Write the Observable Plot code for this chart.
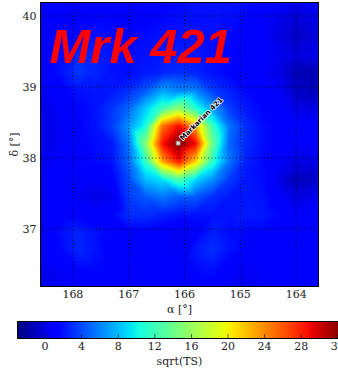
<!DOCTYPE html>
<html><head><meta charset="utf-8">
<script src="https://cdn.jsdelivr.net/npm/d3@7"></script>
<script src="https://cdn.jsdelivr.net/npm/@observablehq/plot@0.6"></script>
<style>
html,body{margin:0;padding:0;overflow:hidden;background:#fff;width:338px;height:369px}
svg{display:block}
</style></head><body><div id="chart"></div><script>
// Grid of sqrt(TS) values (rows = declination, cols = right ascension)
const alphaCols = [168.5,168.2,167.9,167.6,167.3,167.0,166.7,166.4,166.1,165.8,165.5,165.2,164.9,164.6,164.3,164.0,163.7,163.4];
const decRows = [40.2,39.95,39.7,39.45,39.2,38.95,38.7,38.45,38.2,37.95,37.7,37.45,37.2,36.95,36.7,36.45,36.2];
const sqrtTS = [
 [0.8,0.7,0.9,1.3,1.3,0.9,0.9,1.3,1.6,1.9,2.0,2.0,1.8,1.3,0.8,0.4,0.6,0.8],
 [0.8,0.9,1.2,1.5,1.5,1.2,1.3,1.6,1.8,2.0,2.0,1.8,1.5,1.0,0.3,-0.3,0.0,0.5],
 [1.0,1.3,1.7,2.0,1.8,1.6,1.8,2.0,2.0,2.0,1.8,1.6,1.3,0.8,0.0,-0.8,-0.3,0.4],
 [1.2,1.8,2.8,2.5,2.0,1.8,2.0,2.2,2.4,2.2,1.8,1.5,1.3,1.0,0.5,0.0,0.2,0.6],
 [1.2,2.0,3.3,2.6,2.0,1.8,2.2,2.6,3.0,2.6,2.0,1.5,1.2,0.8,0.2,-1.2,-1.5,-0.5],
 [0.6,1.2,2.0,2.2,2.2,3.0,4.5,7.0,6.0,6.0,3.5,2.5,1.6,1.2,0.6,-0.8,-1.2,-0.3],
 [0.3,0.8,1.5,2.0,3.2,5.0,8.5,12.0,15.5,11.0,7.0,3.5,2.2,1.5,1.0,0.2,0.0,0.5],
 [0.2,0.7,1.4,2.0,3.5,6.5,10.5,25.0,29.0,23.0,12.0,5.5,3.0,1.8,1.3,1.0,1.0,1.2],
 [0.2,0.7,1.3,1.8,2.2,5.5,15.0,28.5,32.4,29.0,14.0,5.0,2.8,1.8,1.3,0.8,0.8,1.0],
 [0.5,0.9,1.3,1.6,2.0,5.0,11.5,23.0,28.5,21.5,11.5,5.5,2.5,1.6,0.8,0.0,0.2,0.6],
 [0.8,1.0,1.0,0.8,1.2,4.0,8.0,9.5,13.0,9.0,6.5,3.5,2.2,1.8,0.2,-1.2,-0.8,0.0],
 [1.0,1.0,0.6,0.2,0.3,3.5,4.5,5.5,4.5,4.5,3.0,2.2,2.2,2.0,1.0,0.0,0.3,0.8],
 [1.0,1.2,1.2,1.0,1.5,3.0,3.0,2.5,2.0,2.0,2.0,2.0,2.3,2.2,1.5,1.0,1.0,1.2],
 [1.2,1.8,2.6,2.0,1.4,1.2,1.2,0.9,0.4,1.2,2.4,1.8,1.5,1.5,1.3,1.3,1.2,1.2],
 [0.8,1.6,2.7,2.0,1.0,0.8,1.0,0.8,0.6,2.2,3.0,2.0,1.2,1.2,1.2,1.3,1.2,1.2],
 [0.4,0.8,1.5,1.6,1.2,1.2,1.3,1.2,1.0,1.6,2.0,1.0,0.6,0.8,1.0,1.2,1.2,1.2],
 [0.2,0.5,1.0,1.3,1.2,1.2,1.2,1.2,1.0,1.2,1.2,0.6,0.4,0.8,1.0,1.2,1.2,1.2]
];
const alphaDomain = [168.58, 163.6];
const decDomain = [36.19, 40.19];
const alphaTicks = [168,167,166,165,164];
const decTicks = [40,39,38,37];
const colorDomain = [-3, 32.4];
const cbarTicks = [0,4,8,12,16,20,24,28,32];
const sources = [{name: "Markarian 421", ra: 166.114, dec: 38.209}];
const title = "Mrk 421";
const xLabel = "α [°]";
const yLabel = "δ [°]";
const cbarLabel = "sqrt(TS)";

const table = decRows.flatMap((d, i) => alphaCols.map((a, j) => ({a, d, v: sqrtTS[i][j]})));

// matplotlib "jet" colormap
const jr = d3.scaleLinear([0,0.35,0.66,0.89,1],[0,0,1,1,0.5]).clamp(true);
const jg = d3.scaleLinear([0,0.125,0.375,0.64,0.91,1],[0,0,1,1,0,0]).clamp(true);
const jb = d3.scaleLinear([0,0.11,0.34,0.65,1],[0.5,1,1,0,0]).clamp(true);
const jet = (t) => d3.rgb(255*jr(t), 255*jg(t), 255*jb(t)).formatHex();
const colorOpts = {type: "linear", domain: colorDomain, interpolate: (t) => jet(t), clamp: true};

const serif = "'DejaVu Serif', serif";

const main = Plot.plot({
  width: 338, height: 318,
  marginLeft: 40, marginRight: 20, marginTop: 2, marginBottom: 32,
  style: {fontFamily: serif, fontSize: "11px", color: "#222", background: "transparent", maxWidth: "none", overflow: "visible"},
  x: {domain: alphaDomain, ticks: alphaTicks, tickSize: 0, tickPadding: 4, label: null, tickFormat: d3.format("d")},
  y: {domain: decDomain, ticks: decTicks, tickSize: 0, tickPadding: 4, label: null, tickFormat: d3.format("d")},
  color: colorOpts,
  marks: [
    Plot.raster(table, {x: "a", y: "d", fill: "v", interpolate: "barycentric"}),
    Plot.gridX(alphaTicks, {stroke: "#000", strokeOpacity: 0.75, strokeDasharray: "1,2.5"}),
    Plot.gridY(decTicks, {stroke: "#000", strokeOpacity: 0.75, strokeDasharray: "1,2.5"}),
    Plot.text([title], {text: d => d, frameAnchor: "top-left", dx: 9, dy: 26, lineAnchor: "top",
      fill: "#ff0000", fontSize: 49, fontStyle: "italic", fontWeight: "bold", fontFamily: "'Liberation Sans', Arial, sans-serif"}),
    Plot.dot(sources, {x: "ra", y: "dec", symbol: "square", r: 2.2, fill: "#e0e0e0", stroke: "#888", strokeWidth: 0.8}),
    Plot.text(sources, {x: "ra", y: "dec", text: "name", rotate: -45, textAnchor: "start", dx: 3, dy: -4,
      fontSize: 7, fontWeight: "bold", fontFamily: "'DejaVu Sans', sans-serif", fill: "#000", stroke: "#fff", strokeWidth: 1.4}),
    Plot.frame({stroke: "#000"}),
    Plot.text([xLabel], {text: d => d, frameAnchor: "bottom", dy: 23, lineAnchor: "middle", fontSize: 11, fill: "#222"}),
    Plot.text([yLabel], {text: d => d, frameAnchor: "left", dx: -26, rotate: -90, textAnchor: "middle", lineAnchor: "middle", fontSize: 11, fill: "#222"})
  ]
});

const cbar = Plot.plot({
  width: 341, height: 51,
  marginLeft: 17, marginRight: 0, marginTop: 3, marginBottom: 31,
  style: {fontFamily: serif, fontSize: "11px", color: "#222", background: "transparent", maxWidth: "none", overflow: "visible"},
  x: {domain: colorDomain, ticks: cbarTicks, tickSize: 0, tickPadding: 4, label: null, tickFormat: d3.format("d")},
  y: {domain: [0, 1], axis: null},
  color: colorOpts,
  marks: [
    Plot.raster({fill: (x, y) => x, x1: colorDomain[0], x2: colorDomain[1], y1: 0, y2: 1}),
    Plot.tickX(cbarTicks, {x: d => d, insetTop: 13, stroke: "#000", strokeOpacity: 0.6}),
    Plot.frame({stroke: "#000"}),
    Plot.text([cbarLabel], {text: d => d, frameAnchor: "bottom", dy: 23, lineAnchor: "middle", fontSize: 11, fill: "#222"})
  ]
});

document.getElementById("chart").append(main, cbar);
</script></body></html>
